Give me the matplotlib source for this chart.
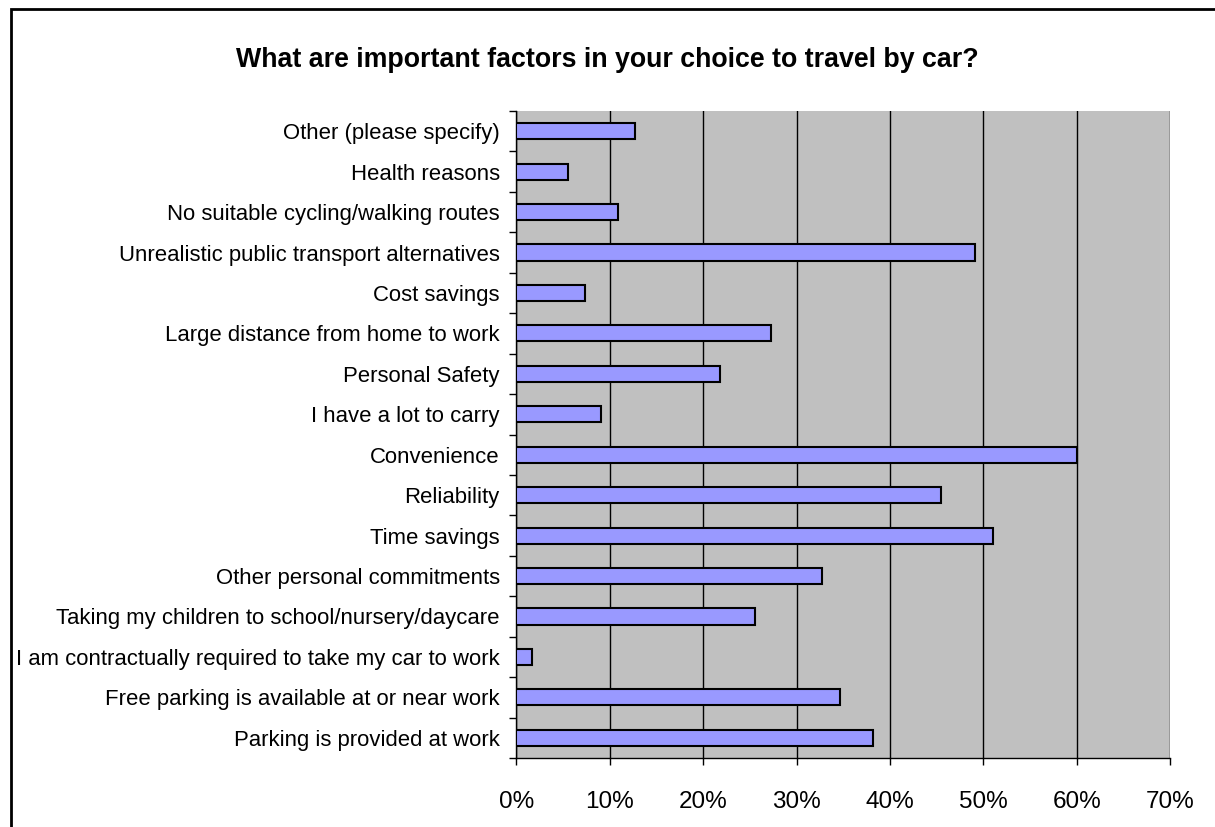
import matplotlib.pyplot as plt
import numpy as np
from matplotlib.ticker import PercentFormatter, FixedLocator

plt.rcParams['font.family'] = ['Liberation Sans', 'DejaVu Sans']

# survey answers, bottom to top
factors = [
    'Parking is provided at work',
    'Free parking is available at or near work',
    'I am contractually required to take my car to work',
    'Taking my children to school/nursery/daycare',
    'Other personal commitments',
    'Time savings',
    'Reliability',
    'Convenience',
    'I have a lot to carry',
    'Personal Safety',
    'Large distance from home to work',
    'Cost savings',
    'Unrealistic public transport alternatives',
    'No suitable cycling/walking routes',
    'Health reasons',
    'Other (please specify)',
]
share = [38.2, 34.6, 1.7, 25.5, 32.7, 51.0, 45.5, 60.0,
         9.1, 21.8, 27.3, 7.3, 49.1, 10.9, 5.5, 12.7]

fig = plt.figure(figsize=(12.15, 8.27), dpi=100)
ax = fig.add_axes([0.4251, 0.0834, 0.5381, 0.7824])

y = np.arange(len(factors))
ax.barh(y, share, height=0.4, color='#9999FF', edgecolor='black',
        linewidth=1.5, zorder=3)

ax.set_facecolor('#C0C0C0')
ax.set_xlim(0, 70)
ax.set_ylim(-0.5, len(factors) - 0.5)
ax.set_xticks(np.arange(0, 71, 10))
ax.xaxis.set_major_formatter(PercentFormatter(decimals=0))
ax.grid(axis='x', color='black', linewidth=1, zorder=1)

ax.set_yticks(y)
ax.set_yticklabels(factors, fontsize=15.9)
ax.yaxis.set_minor_locator(FixedLocator(np.arange(-0.5, len(factors), 1)))
ax.tick_params(axis='y', which='major', length=0, pad=12)
ax.tick_params(axis='y', which='minor', length=5, width=1)
ax.tick_params(axis='x', length=5, width=1, pad=19, labelsize=17.5)

for side in ['top', 'right']:
    ax.spines[side].set_visible(False)
for side in ['left', 'bottom']:
    ax.spines[side].set_color('black')
    ax.spines[side].set_linewidth(1)

fig.text(0.5, 0.9275, 'What are important factors in your choice to travel by car?',
         ha='center', va='center', fontsize=19.3, fontweight='bold')

# outer chart border
fig.patches.append(plt.Rectangle((11 / 1215, -0.01), 1.02, 1 - 9 / 827 + 0.01,
                                 transform=fig.transFigure, fill=False,
                                 edgecolor='black', linewidth=2))

fig.savefig('out.png', dpi=100)
